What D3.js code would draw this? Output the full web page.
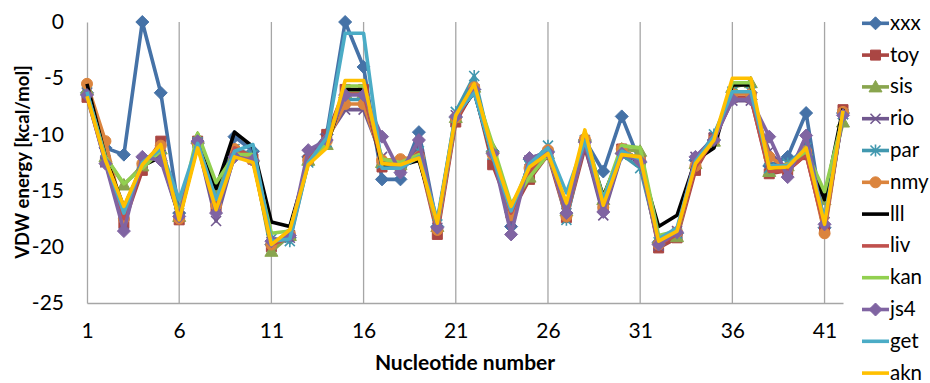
<!DOCTYPE html>
<html>
<head>
<meta charset="utf-8">
<script src="https://cdn.jsdelivr.net/npm/d3@7"></script>
<style>
  body { margin: 0; background: #fff; }
  svg text { font-family: Lato, "Liberation Sans", sans-serif; fill: #000; }
</style>
</head>
<body>
<svg id="chart" width="930" height="383"></svg>
<script>
// nucleotide positions 1..42
const nucleotides = d3.range(1, 43);
const yTicks = [0, -5, -10, -15, -20, -25];
const xTicks = [1, 6, 11, 16, 21, 26, 31, 36, 41];

const seriesNames = ["xxx", "toy", "sis", "rio", "par", "nmy", "lll", "liv", "kan", "js4", "get", "akn"];
const seriesColors = ["#4572A7", "#AA4643", "#89A54E", "#71588F", "#4198AF", "#DB843D",
                      "#000000", "#C0504D", "#92D050", "#8064A2", "#4BACC6", "#FFC000"];
const seriesMarkers = ["diamond", "square", "triangle", "x", "star", "circle",
                       "none", "none", "none", "diamond", "none", "none"];

const xxx = [-6.3,-11.2,-11.8,0,-6.3,-17.0,-10.8,-15.5,-10.2,-11.5,-19.8,-19.2,-12.0,-10.0,0,-4.0,-14.0,-14.0,-9.8,-18.2,-8.5,-6.0,-11.5,-18.2,-12.2,-11.5,-17.0,-10.5,-13.3,-8.4,-12.5,-19.6,-18.8,-12.3,-10.5,-6.3,-6.3,-12.8,-12.0,-8.1,-18.3,-8.1];
const toy = [-6.7,-12.4,-17.9,-13.2,-10.6,-17.6,-10.6,-16.5,-11.5,-12.2,-20.0,-19.0,-12.3,-10.0,-6.0,-6.0,-12.9,-12.8,-12.0,-18.9,-8.9,-6.0,-12.7,-17.0,-14.0,-11.8,-17.4,-11.2,-16.5,-11.3,-12.3,-20.1,-19.2,-13.2,-10.3,-6.7,-6.7,-13.5,-13.2,-11.8,-18.5,-7.8];
const sis = [-6.0,-12.0,-14.5,-12.8,-11.3,-17.3,-10.3,-15.0,-11.8,-12.0,-20.4,-19.0,-12.3,-10.9,-6.3,-6.3,-12.5,-12.7,-11.7,-18.2,-8.5,-5.8,-11.2,-16.5,-13.8,-11.7,-16.8,-10.2,-15.8,-11.3,-11.5,-19.3,-19.1,-12.6,-10.6,-5.8,-5.4,-13.3,-12.8,-11.4,-15.8,-8.9];
const rio = [-6.3,-12.5,-18.0,-12.3,-11.8,-17.3,-10.8,-17.7,-11.8,-12.0,-19.6,-19.2,-11.8,-10.3,-7.8,-7.8,-12.0,-13.2,-11.0,-18.3,-8.3,-6.3,-11.8,-17.8,-12.3,-11.6,-17.0,-11.0,-17.2,-11.8,-12.4,-19.9,-18.6,-12.0,-10.3,-7.0,-7.0,-11.5,-13.4,-10.5,-17.8,-8.2];
const par = [-6.2,-12.3,-17.0,-12.5,-11.3,-17.0,-10.7,-16.0,-11.3,-11.8,-19.3,-19.5,-12.5,-10.7,-6.9,-6.9,-12.6,-13.0,-11.5,-18.0,-8.0,-4.8,-11.8,-16.8,-12.8,-11.0,-17.6,-10.5,-16.0,-11.8,-13.0,-19.6,-18.8,-12.5,-10.0,-6.2,-6.2,-13.0,-12.6,-11.2,-18.3,-8.2];
const nmy = [-5.5,-10.6,-17.5,-12.6,-11.0,-17.5,-10.8,-16.3,-11.3,-12.3,-19.8,-18.9,-12.3,-10.6,-7.3,-7.3,-12.3,-12.2,-12.0,-18.5,-8.5,-5.8,-11.8,-17.2,-13.0,-11.4,-17.3,-10.4,-16.5,-11.3,-12.3,-19.8,-18.7,-12.8,-10.5,-6.4,-6.4,-12.0,-13.0,-11.5,-18.8,-8.0];
const lll = [-5.5,-12.0,-16.5,-12.8,-12.0,-17.3,-11.0,-14.8,-9.8,-11.1,-17.8,-18.2,-12.5,-11.0,-6.0,-6.0,-12.8,-12.8,-12.3,-17.8,-8.5,-6.2,-12.0,-16.6,-13.2,-11.5,-16.7,-10.3,-15.5,-11.5,-12.5,-18.2,-17.2,-12.3,-11.2,-5.6,-5.6,-13.0,-13.2,-11.7,-15.8,-7.7];
const liv = [-6.5,-12.3,-17.5,-12.8,-11.0,-17.4,-10.7,-16.2,-11.2,-12.0,-19.8,-19.2,-12.3,-10.5,-6.4,-6.4,-12.5,-13.0,-11.6,-18.6,-8.7,-6.0,-12.0,-17.0,-13.3,-11.5,-17.2,-10.8,-16.4,-11.5,-12.3,-19.8,-18.9,-12.9,-10.5,-6.8,-6.8,-13.3,-13.2,-11.8,-18.4,-8.0];
const kan = [-6.3,-12.0,-14.4,-13.0,-11.5,-17.2,-9.9,-14.3,-11.8,-11.8,-18.8,-18.6,-12.5,-10.8,-5.7,-5.7,-12.2,-12.5,-11.8,-18.3,-8.5,-5.8,-10.9,-16.2,-13.8,-11.8,-16.5,-9.8,-15.7,-11.0,-11.2,-19.0,-18.6,-12.4,-10.6,-5.4,-5.4,-13.0,-12.7,-11.5,-15.1,-8.5];
const js4 = [-6.5,-12.6,-18.6,-12.0,-12.3,-17.3,-10.6,-17.0,-12.0,-12.3,-19.5,-19.0,-11.4,-10.5,-6.5,-6.5,-10.2,-13.4,-10.5,-18.3,-8.4,-6.0,-11.7,-18.9,-12.1,-11.6,-17.0,-10.7,-16.9,-11.7,-12.4,-19.8,-18.7,-12.0,-10.5,-6.9,-6.9,-10.2,-13.8,-10.1,-18.0,-8.3];
const get = [-6.2,-12.2,-17.0,-12.5,-11.3,-15.8,-10.8,-15.8,-11.5,-10.9,-19.5,-19.3,-12.5,-10.3,-1.0,-1.0,-13.0,-13.0,-12.0,-17.6,-8.2,-6.3,-12.0,-16.8,-12.6,-11.2,-15.2,-10.6,-15.8,-11.5,-12.2,-19.3,-18.3,-12.4,-10.2,-6.2,-6.2,-12.8,-12.8,-11.2,-17.6,-8.0];
const akn = [-6.6,-12.3,-16.4,-12.7,-10.9,-17.6,-11.2,-16.7,-12.0,-12.5,-19.8,-18.5,-12.7,-11.2,-5.2,-5.2,-12.6,-12.7,-12.1,-17.9,-8.3,-5.5,-11.5,-16.4,-12.9,-11.7,-16.1,-9.6,-16.3,-11.8,-12.0,-19.5,-18.6,-12.6,-10.5,-5.0,-5.0,-13.0,-12.9,-11.2,-18.0,-7.9];

const seriesValues = [xxx, toy, sis, rio, par, nmy, lll, liv, kan, js4, get, akn];

const svg = d3.select("#chart");

const x = d3.scaleLinear().domain([1, 42]).range([87, 843]);
const y = d3.scaleLinear().domain([-25, 0]).range([303, 22]);

// vertical gridlines
svg.append("g")
  .selectAll("line")
  .data(xTicks.slice(1))
  .join("line")
  .attr("x1", d => x(d)).attr("x2", d => x(d))
  .attr("y1", y(0)).attr("y2", y(-25))
  .attr("stroke", "#a6a6a6").attr("stroke-width", 1.3);

// axes
const yAxis = d3.axisLeft(y).tickValues(yTicks).tickSize(0).tickPadding(23)
  .tickFormat(d => d === 0 ? "0" : "-" + Math.abs(d));
const gy = svg.append("g").attr("transform", "translate(87,0)").call(yAxis);
gy.select(".domain").attr("stroke", "#a6a6a6").attr("stroke-width", 1.3);
gy.selectAll("text").attr("font-size", 21).attr("font-family", "Lato, sans-serif");

const xAxis = d3.axisBottom(x).tickValues(xTicks).tickSize(0).tickPadding(20);
const gx = svg.append("g").attr("transform", "translate(0,303)").call(xAxis);
gx.select(".domain").attr("stroke", "#a6a6a6").attr("stroke-width", 1.3);
gx.selectAll("text").attr("font-size", 21).attr("font-family", "Lato, sans-serif");

// axis titles
svg.append("text")
  .attr("x", 465).attr("y", 370)
  .attr("text-anchor", "middle")
  .attr("font-size", 21).attr("font-weight", "bold")
  .text("Nucleotide number");

svg.append("text")
  .attr("transform", "translate(29,162) rotate(-90)")
  .attr("text-anchor", "middle")
  .attr("font-size", 18.5).attr("font-weight", "bold")
  .text("VDW energy [kcal/mol]");

function markerPath(type) {
  const s = 5;
  if (type === "diamond") return `M0,${-s-1.5}L${s+1.5},0L0,${s+1.5}L${-s-1.5},0Z`;
  if (type === "square") return `M${-s},${-s}H${s}V${s}H${-s}Z`;
  if (type === "triangle") return `M0,${-s-1.5}L${s+1.5},${s}L${-s-1.5},${s}Z`;
  if (type === "x") return `M${-s},${-s}L${s},${s}M${s},${-s}L${-s},${s}`;
  if (type === "star") return `M${-s},${-s}L${s},${s}M${s},${-s}L${-s},${s}M0,${-s-1}V${s+1}`;
  if (type === "circle") return d3.symbol(d3.symbolCircle, 95)();
  return null;
}

const line = d3.line().x((d, i) => x(nucleotides[i])).y(d => y(d));

seriesNames.forEach((name, k) => {
  const g = svg.append("g").attr("class", "series-" + name);
  const col = seriesColors[k];
  g.append("path")
    .datum(seriesValues[k])
    .attr("d", line)
    .attr("fill", "none")
    .attr("stroke", col)
    .attr("stroke-width", 3.6)
    .attr("stroke-linejoin", "round");
  const m = seriesMarkers[k];
  if (m !== "none") {
    const open = (m === "x" || m === "star");
    g.selectAll("path.mk")
      .data(seriesValues[k])
      .join("path")
      .attr("class", "mk")
      .attr("transform", (d, i) => `translate(${x(nucleotides[i])},${y(d)})`)
      .attr("d", markerPath(m))
      .attr("fill", open ? "none" : col)
      .attr("stroke", col)
      .attr("stroke-width", open ? 1.6 : 1);
  }
});

// legend
const legend = svg.append("g").attr("class", "legend");
seriesNames.forEach((name, k) => {
  const cy = 23.3 + k * 31.8;
  const item = legend.append("g").attr("transform", `translate(0,${cy})`);
  item.append("line")
    .attr("x1", 862).attr("x2", 889)
    .attr("stroke", seriesColors[k]).attr("stroke-width", 3.6);
  const m = seriesMarkers[k];
  if (m !== "none") {
    const open = (m === "x" || m === "star");
    item.append("path")
      .attr("transform", "translate(875.5,0)")
      .attr("d", markerPath(m))
      .attr("fill", open ? "none" : seriesColors[k])
      .attr("stroke", seriesColors[k])
      .attr("stroke-width", open ? 1.6 : 1);
  }
  item.append("text")
    .attr("x", 890).attr("y", 6.5)
    .attr("font-size", 20.5)
    .text(name);
});
</script>
</body>
</html>
